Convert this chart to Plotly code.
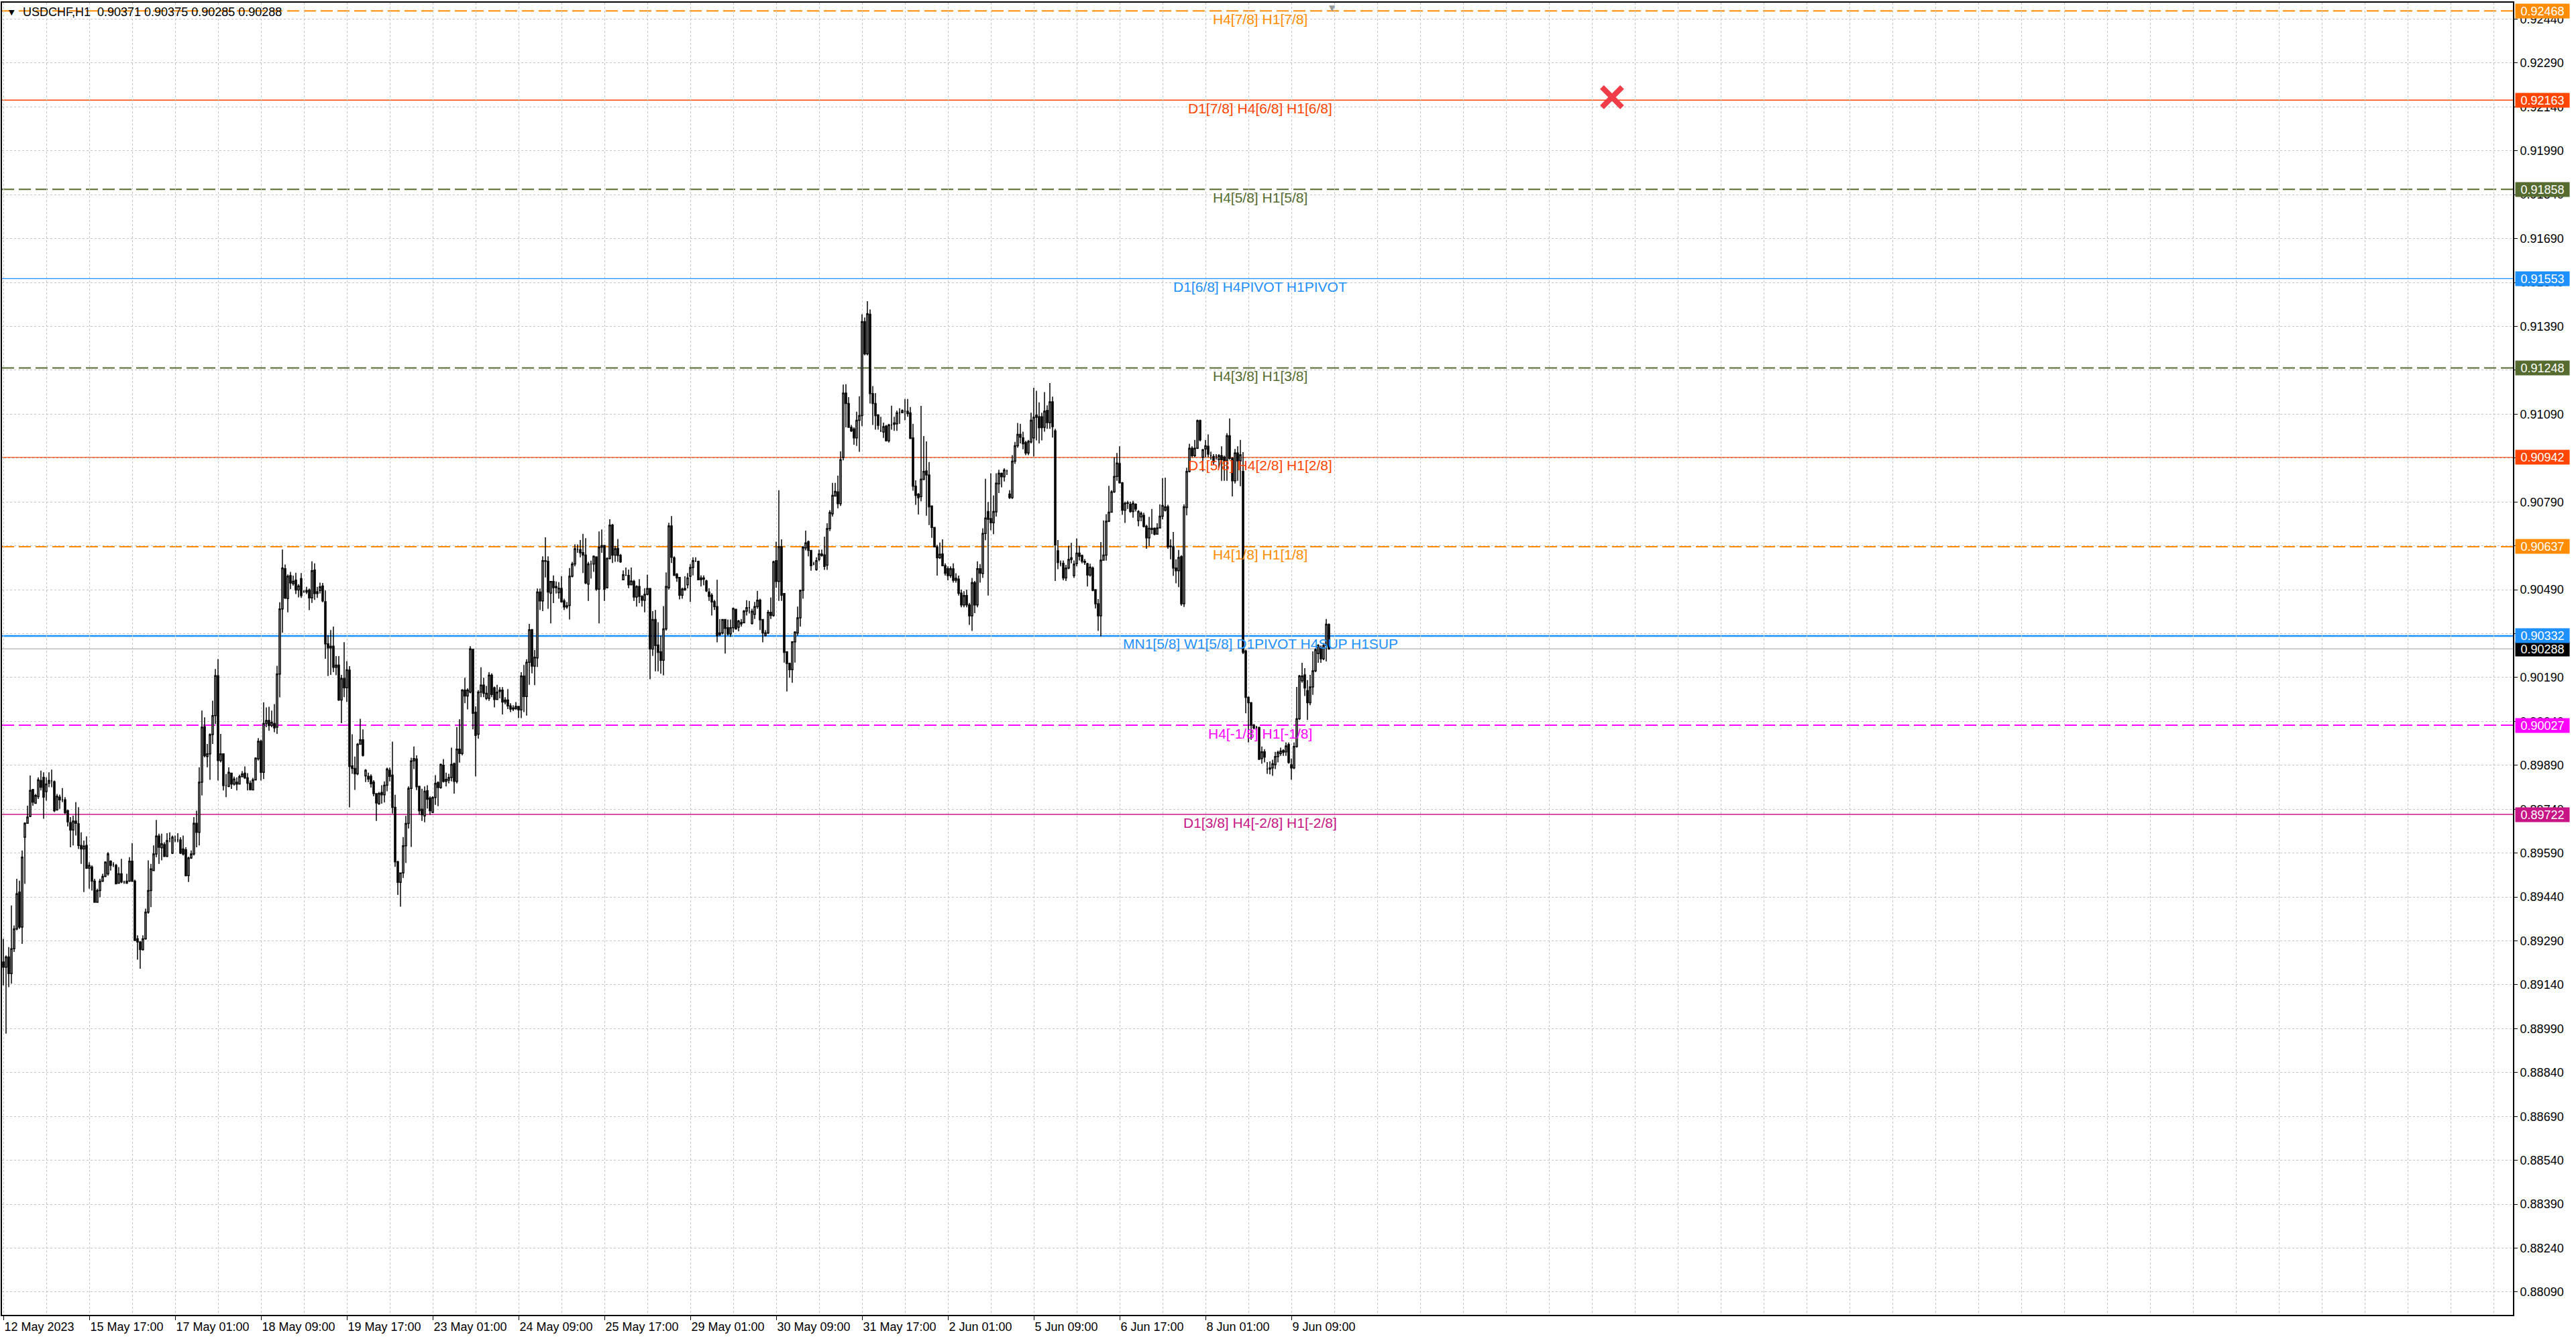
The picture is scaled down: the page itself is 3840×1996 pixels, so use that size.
import plotly.graph_objects as go

# ---------------- data (prices in points, 1 point = 0.00001) ----------------
OPEN = [
    89218, 89200, 89235, 89178, 89263, 89331, 89457, 89337, 89644, 89692,
    89715, 89807, 89760, 89783, 89838, 89849, 89800, 89829, 89837, 89834,
    89738, 89781, 89772, 89772, 89735, 89694, 89669, 89699, 89690, 89616,
    89604, 89616, 89538, 89542, 89494, 89422, 89462, 89494, 89510, 89519,
    89562, 89551, 89548, 89487, 89519, 89491, 89487, 89494, 89562, 89494,
    89297, 89286, 89260, 89297, 89388, 89462, 89530, 89587, 89648, 89608,
    89619, 89579, 89639, 89590, 89635, 89635, 89635, 89604, 89601, 89513,
    89573, 89587, 89692, 89661, 89832, 90022, 89920, 89929, 89995, 90060,
    90196, 89906, 89929, 89821, 89818, 89863, 89826, 89832, 89826, 89851,
    89863, 89847, 89829, 89806, 89840, 89912, 89972, 89866, 90033, 90043,
    90026, 90033, 90020, 90202, 90424, 90562, 90460, 90538, 90511, 90523,
    90489, 90528, 90483, 90482, 90489, 90462, 90557, 90477, 90487, 90503,
    90449, 90305, 90291, 90297, 90225, 90232, 90113, 90187, 90155, 90215,
    89888, 89879, 89861, 89962, 89977, 89854, 89852, 89852, 89833, 89793,
    89759, 89797, 89789, 89822, 89873, 89856, 89746, 89560, 89490, 89522,
    89615, 89691, 89811, 89905, 89911, 89818, 89740, 89717, 89803, 89778,
    89729, 89780, 89831, 89814, 89890, 89835, 89839, 89848, 89896, 89835,
    89945, 89930, 90147, 90127, 90140, 90286, 90071, 89996, 90140, 90164,
    90119, 90119, 90198, 90155, 90115, 90142, 90147, 90106, 90113, 90093,
    90082, 90084, 90091, 90079, 90195, 90125, 90242, 90353, 90229, 90257,
    90482, 90452, 90589, 90587, 90478, 90518, 90497, 90480, 90494, 90452,
    90431, 90436, 90536, 90578, 90627, 90627, 90617, 90608, 90509, 90578,
    90578, 90602, 90492, 90635, 90641, 90497, 90597, 90711, 90608, 90631,
    90607, 90524, 90539, 90539, 90507, 90518, 90465, 90501, 90467, 90454,
    90474, 90494, 90287, 90388, 90301, 90278, 90249, 90356, 90497, 90708,
    90599, 90543, 90532, 90471, 90494, 90507, 90536, 90566, 90587, 90587,
    90524, 90530, 90520, 90482, 90471, 90449, 90432, 90337, 90342, 90388,
    90360, 90339, 90360, 90423, 90362, 90378, 90377, 90417, 90429, 90375,
    90406, 90432, 90454, 90388, 90333, 90342, 90413, 90402, 90589, 90518,
    90637, 90477, 90278, 90238, 90217, 90312, 90342, 90394, 90488, 90633,
    90654, 90624, 90578, 90559, 90594, 90612, 90609, 90574, 90699, 90749,
    90810, 90824, 90784, 90942, 91162, 91126, 91045, 91039, 91009, 91069,
    91085, 91406, 91296, 91431, 91160, 91126, 91087, 91033, 91029, 91049,
    90999, 91053, 91060, 91057, 91094, 91095, 91100, 91100, 91094, 91009,
    90844, 90816, 90808, 90867, 90896, 90882, 90776, 90703, 90636, 90599,
    90612, 90572, 90562, 90538, 90561, 90522, 90526, 90478, 90438, 90470,
    90438, 90401, 90514, 90438, 90562, 90545, 90682, 90757, 90733, 90719,
    90756, 90852, 90888, 90876, 90896, 90817, 90805, 90929, 90982, 91021,
    91009, 90993, 90957, 90995, 91009, 91087, 91081, 91081, 91045, 91103,
    91061, 91132, 91033, 90623, 90579, 90580, 90530, 90564, 90593, 90538,
    90579, 90615, 90607, 90587, 90579, 90540, 90564, 90490, 90442, 90401,
    90591, 90608, 90724, 90755, 90824, 90877, 90921, 90855, 90762, 90785,
    90782, 90757, 90782, 90726, 90739, 90744, 90707, 90667, 90696, 90700,
    90680, 90701, 90741, 90762, 90773, 90639, 90637, 90564, 90555, 90603,
    90442, 90771, 90894, 90973, 90948, 90973, 91068, 90943, 90971, 90980,
    90948, 90945, 90945, 90934, 90948, 90943, 90930, 91016, 90939, 90862,
    90957, 90930, 90894, 90281, 90122, 90104, 90027, 90019, 90019, 89913,
    89936, 89877, 89877, 89881, 89892, 89920, 89930, 89940, 89936, 89961,
    89892, 89881, 89954, 90049, 90179, 90199, 90145, 90104, 90158, 90213,
    90272, 90292, 90254, 90299, 90371,
]
HIGH = [
    89297, 89240, 89269, 89411, 89343, 89502, 89496, 89599, 89695, 89752,
    89855, 89809, 89792, 89849, 89872, 89866, 89849, 89866, 89875, 89838,
    89792, 89790, 89812, 89781, 89738, 89713, 89718, 89764, 89747, 89661,
    89633, 89647, 89559, 89548, 89502, 89468, 89502, 89519, 89562, 89593,
    89565, 89559, 89553, 89542, 89570, 89496, 89519, 89576, 89624, 89499,
    89309, 89289, 89309, 89400, 89565, 89553, 89616, 89703, 89656, 89656,
    89627, 89658, 89661, 89650, 89650, 89658, 89644, 89650, 89610, 89578,
    89599, 89713, 89735, 89883, 90077, 90054, 89963, 89999, 90111, 90219,
    90253, 89997, 89929, 89860, 89883, 89863, 89851, 89849, 89858, 89870,
    89886, 89863, 89838, 89847, 89917, 89983, 89977, 90105, 90088, 90090,
    90077, 90099, 90230, 90447, 90627, 90576, 90542, 90551, 90538, 90548,
    90509, 90547, 90489, 90500, 90494, 90587, 90580, 90500, 90514, 90513,
    90487, 90335, 90352, 90364, 90263, 90263, 90199, 90311, 90246, 90229,
    89996, 89920, 89966, 90049, 90013, 89877, 89865, 89859, 89839, 89794,
    89799, 89822, 89835, 89882, 89882, 89971, 89789, 89564, 89522, 89645,
    89717, 89818, 89916, 89954, 89924, 89820, 89810, 89818, 89822, 89784,
    89784, 89856, 89835, 89896, 89911, 89865, 89861, 89950, 89899, 90021,
    90047, 90150, 90189, 90153, 90297, 90288, 90091, 90147, 90225, 90189,
    90161, 90208, 90204, 90159, 90165, 90157, 90157, 90123, 90150, 90102,
    90095, 90106, 90093, 90208, 90233, 90252, 90373, 90356, 90284, 90494,
    90494, 90604, 90669, 90604, 90520, 90539, 90518, 90516, 90536, 90459,
    90448, 90564, 90585, 90645, 90645, 90660, 90681, 90666, 90585, 90589,
    90607, 90604, 90689, 90696, 90643, 90601, 90731, 90715, 90639, 90663,
    90612, 90556, 90566, 90559, 90566, 90524, 90505, 90526, 90471, 90495,
    90541, 90495, 90417, 90421, 90379, 90333, 90434, 90549, 90719, 90742,
    90604, 90547, 90533, 90497, 90536, 90547, 90578, 90601, 90601, 90589,
    90539, 90539, 90524, 90495, 90478, 90455, 90524, 90390, 90390, 90390,
    90388, 90388, 90429, 90425, 90387, 90390, 90421, 90454, 90452, 90425,
    90448, 90486, 90459, 90390, 90352, 90421, 90463, 90589, 90654, 90830,
    90662, 90478, 90279, 90241, 90314, 90348, 90432, 90490, 90639, 90692,
    90658, 90625, 90585, 90601, 90627, 90627, 90671, 90717, 90762, 90855,
    90855, 90880, 90963, 91191, 91192, 91148, 91053, 91045, 91098, 91151,
    91431, 91420, 91476, 91448, 91186, 91162, 91090, 91081, 91061, 91053,
    91057, 91119, 91081, 91102, 91110, 91106, 91142, 91142, 91114, 91057,
    90864, 90820, 91118, 91015, 90997, 90926, 90776, 90703, 90643, 90651,
    90662, 90580, 90570, 90570, 90580, 90546, 90538, 90490, 90485, 90490,
    90445, 90530, 90520, 90587, 90578, 90700, 90869, 90790, 90888, 90812,
    90888, 90900, 90890, 90905, 90900, 90830, 90950, 90995, 91060, 91057,
    91030, 90999, 91002, 91095, 91180, 91170, 91130, 91095, 91165, 91120,
    91196, 91150, 91040, 90660, 90590, 90590, 90575, 90640, 90650, 90590,
    90665, 90640, 90610, 90595, 90582, 90579, 90569, 90491, 90458, 90653,
    90727, 90748, 90845, 90830, 90943, 90957, 90980, 90858, 90791, 90794,
    90791, 90794, 90785, 90762, 90757, 90753, 90712, 90739, 90766, 90703,
    90717, 90782, 90871, 90873, 90780, 90662, 90687, 90594, 90626, 90608,
    90782, 90907, 90989, 90980, 91002, 91071, 91071, 90971, 91002, 91021,
    90962, 90953, 90953, 90953, 90980, 90948, 91025, 91075, 90943, 90971,
    90980, 91002, 90960, 90285, 90125, 90106, 90031, 90025, 90022, 89954,
    89945, 89901, 89903, 89909, 89936, 89940, 89950, 89945, 89968, 89968,
    89913, 89968, 90158, 90199, 90240, 90222, 90181, 90199, 90279, 90290,
    90304, 90299, 90308, 90390, 90375,
]
LOW = [
    89138, 88973, 89132, 89144, 89252, 89326, 89331, 89280, 89485, 89690,
    89713, 89752, 89758, 89775, 89804, 89707, 89769, 89815, 89815, 89730,
    89735, 89741, 89764, 89724, 89681, 89610, 89616, 89650, 89604, 89553,
    89457, 89536, 89468, 89462, 89422, 89422, 89439, 89491, 89508, 89513,
    89530, 89542, 89485, 89485, 89487, 89485, 89485, 89491, 89491, 89291,
    89226, 89195, 89257, 89294, 89383, 89405, 89530, 89576, 89553, 89565,
    89576, 89576, 89627, 89587, 89627, 89627, 89587, 89582, 89510, 89491,
    89570, 89582, 89610, 89616, 89787, 89917, 89883, 89840, 89963, 90031,
    89838, 89900, 89804, 89781, 89815, 89809, 89821, 89804, 89824, 89849,
    89843, 89804, 89804, 89804, 89838, 89906, 89838, 89843, 90020, 90008,
    90020, 90003, 89997, 90122, 90343, 90458, 90413, 90492, 90504, 90475,
    90464, 90462, 90479, 90475, 90420, 90445, 90455, 90462, 90477, 90447,
    90254, 90195, 90199, 90208, 90198, 90110, 90034, 90123, 90106, 89746,
    89861, 89806, 89856, 89960, 89920, 89833, 89833, 89814, 89784, 89700,
    89755, 89759, 89763, 89801, 89835, 89725, 89543, 89447, 89407, 89505,
    89556, 89674, 89611, 89877, 89805, 89721, 89700, 89695, 89742, 89721,
    89727, 89755, 89750, 89810, 89831, 89818, 89828, 89835, 89793, 89828,
    89899, 89924, 90102, 90081, 90136, 90013, 89852, 89981, 90123, 90123,
    90113, 90110, 90123, 90088, 90113, 90119, 90064, 90098, 90082, 90072,
    90075, 90079, 90051, 90051, 90072, 90060, 90165, 90204, 90164, 90226,
    90421, 90417, 90532, 90425, 90375, 90444, 90477, 90459, 90446, 90421,
    90425, 90388, 90532, 90570, 90616, 90601, 90547, 90509, 90452, 90528,
    90551, 90486, 90375, 90616, 90452, 90494, 90593, 90581, 90585, 90585,
    90582, 90523, 90538, 90495, 90505, 90452, 90432, 90444, 90432, 90413,
    90471, 90184, 90264, 90211, 90211, 90203, 90197, 90350, 90490, 90581,
    90539, 90517, 90457, 90459, 90486, 90494, 90448, 90539, 90585, 90523,
    90501, 90505, 90482, 90452, 90402, 90421, 90310, 90332, 90337, 90272,
    90333, 90329, 90344, 90354, 90348, 90364, 90375, 90402, 90409, 90371,
    90390, 90425, 90352, 90310, 90331, 90339, 90390, 90398, 90497, 90452,
    90452, 90241, 90142, 90189, 90172, 90241, 90333, 90364, 90459, 90624,
    90604, 90555, 90574, 90555, 90587, 90603, 90558, 90558, 90690, 90740,
    90808, 90768, 90776, 90932, 91045, 91045, 91029, 90985, 90981, 90961,
    91049, 91291, 91291, 91126, 91053, 91037, 91037, 91029, 91009, 90997,
    90993, 91037, 91033, 91033, 91057, 91094, 91069, 91081, 91005, 90828,
    90780, 90747, 90792, 90864, 90743, 90711, 90667, 90635, 90538, 90595,
    90570, 90538, 90522, 90530, 90514, 90514, 90470, 90430, 90430, 90430,
    90370, 90349, 90410, 90430, 90514, 90530, 90659, 90470, 90693, 90680,
    90740, 90820, 90840, 90860, 90882, 90800, 90800, 90920, 90975, 90990,
    90970, 90950, 90950, 90990, 90945, 91000, 90990, 91000, 91030, 91040,
    91040, 91010, 90520, 90560, 90570, 90522, 90520, 90560, 90580, 90530,
    90570, 90590, 90580, 90575, 90501, 90535, 90485, 90426, 90349, 90331,
    90589, 90589, 90721, 90753, 90821, 90862, 90853, 90746, 90718, 90766,
    90753, 90736, 90757, 90707, 90724, 90703, 90630, 90639, 90680, 90676,
    90678, 90700, 90730, 90757, 90630, 90594, 90537, 90512, 90499, 90435,
    90431, 90744, 90891, 90943, 90943, 90971, 90997, 90894, 90943, 90943,
    90934, 90916, 90934, 90907, 90862, 90862, 90862, 90934, 90809, 90853,
    90862, 90844, 90270, 90068, 89968, 89977, 90013, 90010, 89909, 89895,
    89900, 89861, 89859, 89854, 89877, 89900, 89922, 89922, 89922, 89895,
    89841, 89877, 89950, 90045, 90172, 90127, 90045, 90095, 90131, 90208,
    90240, 90240, 90249, 90245, 90285,
]
CLOSE = [
    89200, 89235, 89178, 89263, 89331, 89451, 89337, 89576, 89692, 89713,
    89804, 89764, 89787, 89840, 89815, 89781, 89826, 89838, 89837, 89735,
    89784, 89772, 89772, 89728, 89697, 89669, 89699, 89692, 89616, 89604,
    89614, 89538, 89548, 89494, 89422, 89462, 89494, 89510, 89559, 89587,
    89548, 89551, 89485, 89519, 89491, 89491, 89494, 89562, 89494, 89291,
    89286, 89260, 89297, 89388, 89462, 89536, 89587, 89648, 89610, 89622,
    89579, 89633, 89639, 89644, 89635, 89635, 89590, 89587, 89513, 89573,
    89587, 89692, 89661, 89832, 90020, 89923, 89929, 89995, 90060, 90196,
    89906, 89929, 89821, 89821, 89866, 89826, 89843, 89826, 89851, 89860,
    89847, 89829, 89807, 89840, 89914, 89972, 89866, 90033, 90043, 90026,
    90037, 90018, 90202, 90424, 90564, 90462, 90536, 90513, 90519, 90489,
    90503, 90470, 90483, 90487, 90462, 90555, 90477, 90483, 90500, 90452,
    90305, 90291, 90297, 90225, 90232, 90113, 90187, 90155, 90216, 89886,
    89879, 89861, 89962, 89977, 89924, 89873, 89843, 89827, 89793, 89761,
    89794, 89789, 89822, 89877, 89852, 89746, 89560, 89490, 89522, 89615,
    89691, 89811, 89905, 89913, 89817, 89735, 89721, 89801, 89774, 89735,
    89780, 89828, 89814, 89893, 89835, 89842, 89848, 89893, 89835, 89945,
    89930, 90147, 90127, 90147, 90288, 90068, 89992, 90140, 90164, 90136,
    90136, 90198, 90132, 90115, 90140, 90147, 90106, 90113, 90093, 90082,
    90086, 90091, 90079, 90195, 90125, 90242, 90353, 90229, 90259, 90482,
    90452, 90589, 90587, 90482, 90518, 90497, 90501, 90495, 90448, 90431,
    90435, 90536, 90578, 90630, 90627, 90616, 90608, 90513, 90578, 90578,
    90604, 90492, 90635, 90641, 90492, 90597, 90711, 90608, 90630, 90607,
    90585, 90541, 90539, 90507, 90520, 90465, 90501, 90467, 90454, 90474,
    90494, 90287, 90388, 90299, 90276, 90249, 90356, 90501, 90708, 90601,
    90539, 90530, 90471, 90492, 90490, 90530, 90566, 90589, 90587, 90524,
    90530, 90526, 90486, 90467, 90448, 90432, 90333, 90342, 90388, 90358,
    90339, 90360, 90426, 90356, 90383, 90373, 90417, 90429, 90429, 90416,
    90432, 90454, 90387, 90342, 90342, 90413, 90402, 90585, 90518, 90637,
    90471, 90276, 90238, 90217, 90312, 90345, 90394, 90488, 90635, 90650,
    90624, 90572, 90578, 90589, 90612, 90607, 90570, 90699, 90754, 90812,
    90826, 90784, 90934, 91162, 91126, 91045, 91033, 91009, 91069, 91085,
    91406, 91296, 91433, 91160, 91126, 91085, 91052, 91033, 91047, 90999,
    91053, 91053, 91055, 91094, 91094, 91102, 91100, 91092, 91007, 90844,
    90812, 90804, 90868, 90894, 90882, 90773, 90703, 90636, 90599, 90611,
    90572, 90546, 90538, 90562, 90522, 90529, 90478, 90438, 90470, 90438,
    90401, 90514, 90438, 90562, 90546, 90682, 90735, 90731, 90719, 90757,
    90854, 90888, 90876, 90899, 90896, 90805, 90929, 90982, 91021, 91011,
    90989, 90957, 90997, 91069, 91079, 91079, 91044, 91044, 91100, 91061,
    91132, 91047, 90643, 90583, 90579, 90530, 90564, 90593, 90599, 90577,
    90615, 90604, 90587, 90583, 90540, 90567, 90488, 90442, 90401, 90591,
    90608, 90724, 90755, 90824, 90877, 90923, 90855, 90762, 90785, 90787,
    90757, 90785, 90766, 90757, 90751, 90706, 90667, 90700, 90700, 90680,
    90701, 90741, 90778, 90773, 90637, 90637, 90564, 90555, 90600, 90442,
    90773, 90894, 90973, 90948, 90973, 91068, 91002, 90968, 90982, 90953,
    90948, 90927, 90945, 90948, 90934, 90930, 91016, 90939, 90862, 90957,
    90930, 90951, 90276, 90122, 90104, 90027, 90018, 90019, 89910, 89936,
    89918, 89877, 89881, 89895, 89920, 89934, 89939, 89934, 89956, 89900,
    89881, 89954, 90049, 90195, 90195, 90154, 90104, 90158, 90213, 90285,
    90299, 90254, 90299, 90372, 90288,
]
assert len(OPEN) == len(HIGH) == len(LOW) == len(CLOSE)

POINT = 1e-5
BAR_INDEX = list(range(len(OPEN)))  # hourly bars, weekends skipped

TIME_TICK_BARS = [0, 32, 64, 96, 128, 160, 192, 224, 256, 288, 320, 352, 384, 416, 448, 480]
TIME_TICK_LABELS = ["12 May 2023", "15 May 17:00", "17 May 01:00", "18 May 09:00",
                    "19 May 17:00", "23 May 01:00", "24 May 09:00", "25 May 17:00",
                    "29 May 01:00", "30 May 09:00", "31 May 17:00", "2 Jun 01:00",
                    "5 Jun 09:00", "6 Jun 17:00", "8 Jun 01:00", "9 Jun 09:00"]

PRICE_TICKS = [0.88090, 0.88240, 0.88390, 0.88540, 0.88690, 0.88840, 0.88990, 0.89140,
               0.89290, 0.89440, 0.89590, 0.89740, 0.89890, 0.90040, 0.90190, 0.90340,
               0.90490, 0.90640, 0.90790, 0.90940, 0.91090, 0.91240, 0.91390, 0.91540,
               0.91690, 0.91840, 0.91990, 0.92140, 0.92290, 0.92440]
PRICE_TICK_LABELS = ["0.88090", "0.88240", "0.88390", "0.88540", "0.88690", "0.88840",
                     "0.88990", "0.89140", "0.89290", "0.89440", "0.89590", "0.89740",
                     "0.89890", "0.90040", "0.90190", "0.90340", "0.90490", "0.90640",
                     "0.90790", "0.90940", "0.91090", "0.91240", "0.91390", "0.91540",
                     "0.91690", "0.91840", "0.91990", "0.92140", "0.92290", "0.92440"]

LEVEL_PRICES = [0.92468, 0.92163, 0.91858, 0.91553, 0.91248,
                0.90942, 0.90637, 0.90332, 0.90027, 0.89722]
LEVEL_NAMES = ["H4[7/8] H1[7/8]", "D1[7/8] H4[6/8] H1[6/8]", "H4[5/8] H1[5/8]",
               "D1[6/8] H4PIVOT H1PIVOT", "H4[3/8] H1[3/8]", "D1[5/8] H4[2/8] H1[2/8]",
               "H4[1/8] H1[1/8]", "MN1[5/8] W1[5/8] D1PIVOT H4SUP H1SUP",
               "H4[-1/8] H1[-1/8]", "D1[3/8] H4[-2/8] H1[-2/8]"]
BID_PRICE = 0.90288
SYMBOL = "USDCHF,H1"
LAST_OHLC = ["0.90371", "0.90375", "0.90285", "0.90288"]
ORDER_MARK_BAR = [599.5]
ORDER_MARK_PRICE = [0.92173]

# ---------------- styles ----------------
FONT = "Liberation Sans, Arial, sans-serif"
ORANGE, ORED, OLIVE, BLUE, MAG, MVR = "#FF8C00", "#FF4500", "#556B2F", "#1E90FF", "#FF00FF", "#C71585"
LEVEL_COLORS = [ORANGE, ORED, OLIVE, BLUE, OLIVE, ORED, ORANGE, BLUE, MAG, MVR]
DASHED = "18px,7px"
LEVEL_DASH = [DASHED, "solid", DASHED, "solid", DASHED, "solid", DASHED, "solid", DASHED, "solid"]
LEVEL_WIDTH = [2, 1.5, 2, 1.3, 2, 1.5, 2, 2.5, 2, 1.5]
GRID = "#c4c4c4"
X_RANGE = [-0.5, 935.25]
Y_RANGE = [0.88012, 0.92496]
GRID_BARS = list(range(0, 936, 16))

fig = go.Figure()
fig.add_trace(go.Candlestick(
    x=BAR_INDEX,
    open=[v * POINT for v in OPEN],
    high=[v * POINT for v in HIGH],
    low=[v * POINT for v in LOW],
    close=[v * POINT for v in CLOSE],
    increasing=dict(line=dict(color="black", width=1.5), fillcolor="white"),
    decreasing=dict(line=dict(color="black", width=1.5), fillcolor="black"),
    whiskerwidth=0, showlegend=False, hoverinfo="skip",
))
fig.add_trace(go.Scatter(
    x=ORDER_MARK_BAR, y=ORDER_MARK_PRICE, mode="markers", showlegend=False, hoverinfo="skip",
    marker=dict(symbol="x-thin", size=30, color="#f03c48", line=dict(color="#f03c48", width=8)),
))

shapes = []
for p, c, d, w in zip(LEVEL_PRICES, LEVEL_COLORS, LEVEL_DASH, LEVEL_WIDTH):
    shapes.append(dict(type="line", xref="paper", x0=0, x1=1, yref="y", y0=p, y1=p,
                       line=dict(color=c, width=w, dash=d), layer="between"))
shapes.append(dict(type="line", xref="paper", x0=0, x1=1, yref="y", y0=BID_PRICE, y1=BID_PRICE,
                   line=dict(color="#bdbdbd", width=1.5), layer="between"))

annotations = []
for p, name, c in zip(LEVEL_PRICES, LEVEL_NAMES, LEVEL_COLORS):
    annotations.append(dict(xref="paper", x=0.5012, yref="y", y=p, yshift=-12,
                            xanchor="center", yanchor="middle", showarrow=False,
                            text=name, font=dict(family=FONT, size=21, color=c)))

box_prices = LEVEL_PRICES[:7] + [BID_PRICE] + LEVEL_PRICES[7:]
box_colors = LEVEL_COLORS[:7] + ["#000000"] + LEVEL_COLORS[7:]
order = list(range(len(box_prices)))
order.remove(8)
order.insert(order.index(7) + 1, 8)  # blue 0.90332 drawn over the black bid box
for i in order:
    annotations.append(dict(xref="paper", x=1, xshift=3, yref="y", y=box_prices[i],
                            xanchor="left", yanchor="middle", showarrow=False,
                            text="%.5f" % box_prices[i], width=80, height=21, borderpad=0,
                            align="center", bgcolor=box_colors[i],
                            font=dict(family=FONT, size=18, color="white")))

annotations.append(dict(xref="paper", x=0, xshift=8, yref="paper", y=1, yshift=-14,
                        xanchor="left", yanchor="middle", showarrow=False, text="▼",
                        font=dict(family="DejaVu Sans", size=11, color="black")))
annotations.append(dict(xref="paper", x=0, xshift=29, yref="paper", y=1, yshift=-14,
                        xanchor="left", yanchor="middle", showarrow=False,
                        text=SYMBOL + "\u00a0\u00a0" + " ".join(LAST_OHLC),
                        font=dict(family=FONT, size=18, color="black")))
annotations.append(dict(xref="paper", x=0.5298, yref="paper", y=1, yshift=1,
                        xanchor="center", yanchor="top", showarrow=False, text="▼",
                        font=dict(family="DejaVu Sans", size=12, color="#9a9a9a")))

fig.update_layout(
    template="none",
    width=3840, height=1996,
    margin=dict(l=3, r=94, t=4, b=36, pad=0),
    paper_bgcolor="white", plot_bgcolor="white",
    showlegend=False, hovermode=False,
    shapes=shapes, annotations=annotations,
    boxgap=0.25,
    xaxis=dict(
        range=X_RANGE, tickmode="array", tickvals=TIME_TICK_BARS, ticktext=TIME_TICK_LABELS,
        ticks="outside", ticklen=6, tickwidth=1, tickcolor="black",
        ticklabelposition="outside right",
        tickfont=dict(family=FONT, size=18, color="black"),
        showgrid=True, gridcolor=GRID, gridwidth=1, griddash="3px,3px",
        minor=dict(tickvals=GRID_BARS, showgrid=True, gridcolor=GRID, gridwidth=1,
                   griddash="3px,3px", ticks=""),
        showline=True, mirror=True, linecolor="black", linewidth=2,
        zeroline=False, rangeslider=dict(visible=False), automargin=False, fixedrange=True,
    ),
    yaxis=dict(
        side="right", range=Y_RANGE, tickmode="array", tickvals=PRICE_TICKS,
        ticktext=PRICE_TICK_LABELS, ticks="outside", ticklen=5, tickcolor="black",
        tickfont=dict(family=FONT, size=18, color="black"),
        showgrid=True, gridcolor=GRID, gridwidth=1, griddash="3px,3px",
        showline=True, mirror=True, linecolor="black", linewidth=2,
        zeroline=False, automargin=False, fixedrange=True,
    ),
)

fig.write_html("out.html", config={"displayModeBar": False},
               post_script="document.body.style.margin='0';document.body.style.overflow='hidden';")
